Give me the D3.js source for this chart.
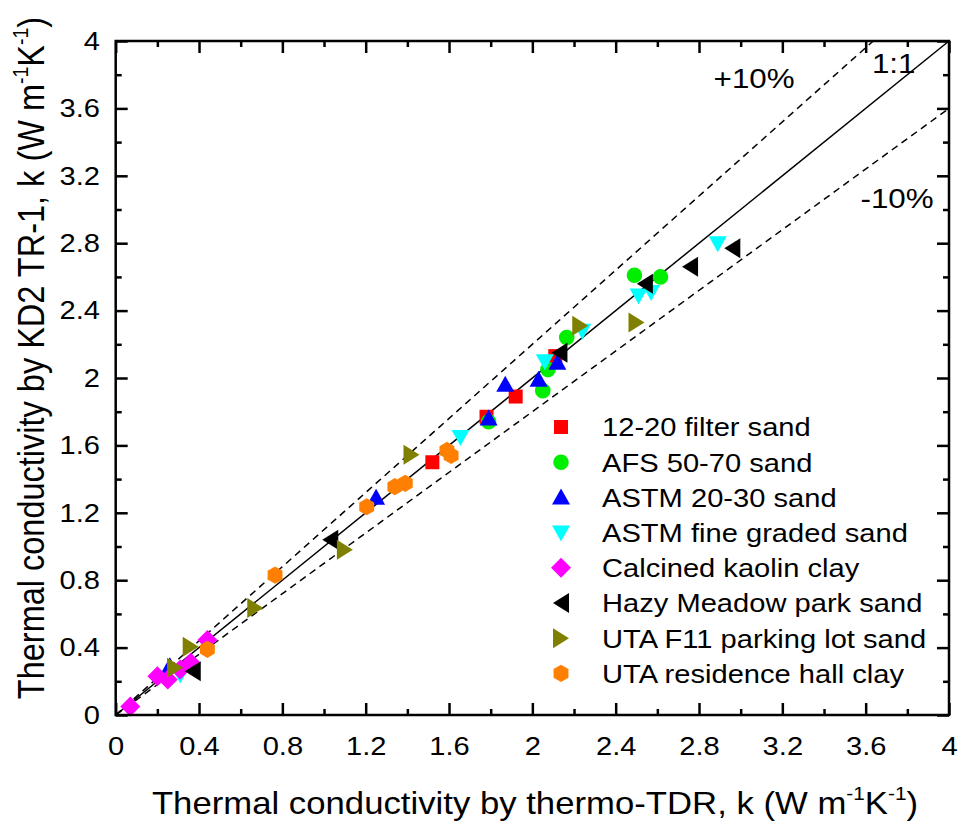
<!DOCTYPE html>
<html>
<head>
<meta charset="utf-8">
<script src="https://cdn.jsdelivr.net/npm/d3@7"></script>
<style>
  body { margin: 0; background: #fff; }
  svg text { font-family: "Liberation Sans", Arial, sans-serif; fill: #000; }
</style>
</head>
<body>
<div id="chart"></div>
<script>
// Data: [thermo-TDR k, KD2 TR-1 k]
var filterSand   = [[1.52,1.50],[1.78,1.77],[1.92,1.89],[2.11,2.13]]
var afsSand      = [[1.79,1.74],[2.05,1.925],[2.075,2.05],[2.165,2.24],[2.49,2.61],[2.615,2.60]]
var astm2030     = [[0.26,0.29],[1.25,1.29],[1.79,1.76],[1.87,1.96],[2.03,1.99],[2.12,2.09]]
var astmFine     = [[0.31,0.24],[1.655,1.65],[2.06,2.10],[2.24,2.28],[2.51,2.49],[2.57,2.51],[2.89,2.80]]
var kaolinClay   = [[0.07,0.05],[0.20,0.23],[0.25,0.21],[0.31,0.27],[0.36,0.31],[0.44,0.445]]
var hazyMeadow   = [[0.37,0.26],[1.03,1.04],[2.13,2.15],[2.54,2.56],[2.757,2.66],[2.96,2.77]]
var utaF11       = [[0.285,0.28],[0.36,0.405],[0.67,0.635],[1.10,0.98],[1.42,1.545],[2.23,2.31],[2.50,2.33]]
var residenceClay= [[0.44,0.39],[0.765,0.83],[1.205,1.236],[1.34,1.355],[1.39,1.375],[1.59,1.57],[1.61,1.54]]

var seriesNames  = ["12-20 filter sand","AFS 50-70 sand","ASTM 20-30 sand","ASTM fine graded sand",
                    "Calcined kaolin clay","Hazy Meadow park sand","UTA F11 parking lot sand","UTA residence hall clay"]
var seriesData   = [filterSand, afsSand, astm2030, astmFine, kaolinClay, hazyMeadow, utaF11, residenceClay]
var seriesColors = ["#ff0000","#00ee00","#0000ff","#00ffff","#ff00ff","#000000","#808000","#ff8000"]
var seriesShapes = ["square","circle","up","down","diamond","left","right","hexagon"]

var majorTicks = [0,0.4,0.8,1.2,1.6,2,2.4,2.8,3.2,3.6,4]
var minorTicks = [0.2,0.6,1.0,1.4,1.8,2.2,2.6,3.0,3.4,3.8]
var refLines = [{slope:1, dash:null}, {slope:1.1, dash:"7,5"}, {slope:0.9, dash:"7,5"}]
var annotations = [{text:"+10%", x:2.87, y:3.72}, {text:"1:1", x:3.63, y:3.81}, {text:"-10%", x:3.575, y:3.01}]

var SX = 1.12  // the original picture is a little stretched horizontally
var W = 963, H = 824
var margin = {left: 115.7, right: 14, top: 41, bottom: 109}

var svg = d3.select('#chart').append('svg')
  .attr('width', W)
  .attr('height', H)

var x = d3.scaleLinear().domain([0,4]).range([margin.left, W - margin.right])
var y = d3.scaleLinear().domain([0,4]).range([H - margin.bottom, margin.top])

function shapePath(shape) {
  switch (shape) {
    case 'square':  return 'M-7,-7H7V7H-7Z'
    case 'circle':  return 'M7.8,0A7.8,7.8 0 1,1 -7.8,0A7.8,7.8 0 1,1 7.8,0Z'
    case 'up':      return 'M0,-9L9,7L-9,7Z'
    case 'down':    return 'M0,9L9,-7L-9,-7Z'
    case 'left':    return 'M-8,0L8,-10L8,10Z'
    case 'right':   return 'M8,0L-8,-10L-8,10Z'
    case 'diamond': return 'M0,-10L10,0L0,10L-10,0Z'
    case 'hexagon':
      var pts = d3.range(6).map(function(i){
        var a = Math.PI/6 + i*Math.PI/3
        return [8.6*Math.cos(a), 8.6*Math.sin(a)]
      })
      return 'M' + pts.join('L') + 'Z'
  }
}

// Reference lines
var line = d3.line()
  .x(function(d) { return x(d[0]) })
  .y(function(d) { return y(d[1]) })

refLines.forEach(function(r){
  var xEnd = Math.min(4, 4 / r.slope)
  svg.append('path')
    .datum([[0,0],[xEnd, xEnd*r.slope]])
    .attr('fill','none')
    .attr('stroke','#000')
    .attr('stroke-width', 1.5)
    .attr('stroke-dasharray', r.dash)
    .attr('d', line)
})

// Points
seriesData.forEach(function(data, i){
  svg.append('g').selectAll('path')
    .data(data)
    .enter().append('path')
      .attr('transform', function(d){ return 'translate(' + x(d[0]) + ',' + y(d[1]) + ')' })
      .attr('d', shapePath(seriesShapes[i]))
      .attr('fill', seriesColors[i])
})

// Axes: major ticks inside, minor ticks inside, on all four sides
function styleAxis(g) {
  g.select('.domain').remove()
  g.selectAll('line').attr('stroke','#000').attr('stroke-width', 2.5)
}

svg.append('g').attr('transform','translate(0,' + y(0) + ')')
  .call(d3.axisBottom(x).tickValues(majorTicks).tickSize(-12).tickPadding(22).tickFormat(d3.format('~g')))
  .call(styleAxis)
svg.append('g').attr('transform','translate(0,' + y(0) + ')')
  .call(d3.axisBottom(x).tickValues(minorTicks).tickSize(-6).tickFormat(''))
  .call(styleAxis)

svg.append('g').attr('transform','translate(' + x(0) + ',0)')
  .call(d3.axisLeft(y).tickValues(majorTicks).tickSize(-12).tickPadding(14).tickFormat(d3.format('~g')))
  .call(styleAxis)
svg.append('g').attr('transform','translate(' + x(0) + ',0)')
  .call(d3.axisLeft(y).tickValues(minorTicks).tickSize(-6).tickFormat(''))
  .call(styleAxis)

svg.append('g').attr('transform','translate(0,' + y(4) + ')')
  .call(d3.axisTop(x).tickValues(majorTicks).tickSize(-12).tickFormat(''))
  .call(styleAxis)
svg.append('g').attr('transform','translate(0,' + y(4) + ')')
  .call(d3.axisTop(x).tickValues(minorTicks).tickSize(-6).tickFormat(''))
  .call(styleAxis)
svg.append('g').attr('transform','translate(' + x(4) + ',0)')
  .call(d3.axisRight(y).tickValues(majorTicks).tickSize(-12).tickFormat(''))
  .call(styleAxis)
svg.append('g').attr('transform','translate(' + x(4) + ',0)')
  .call(d3.axisRight(y).tickValues(minorTicks).tickSize(-6).tickFormat(''))
  .call(styleAxis)

svg.selectAll('.tick text')
  .attr('font-family', null)
  .attr('font-size', 26)
  .attr('fill', '#000')
  .attr('transform', 'scale(' + SX + ',1)')

// Frame
svg.append('rect')
  .attr('x', x(0)).attr('y', y(4))
  .attr('width', x(4) - x(0)).attr('height', y(0) - y(4))
  .attr('fill','none').attr('stroke','#000').attr('stroke-width', 2.5)

// Annotations
svg.selectAll('.annot')
  .data(annotations)
  .enter().append('text')
    .attr('class','annot')
    .attr('transform', function(d){ return 'translate(' + x(d.x) + ',' + y(d.y) + ') scale(' + SX + ',1)' })
    .attr('font-size', 28)
    .text(function(d){ return d.text })

// Axis titles
function unitTitle(t, prefix) {
  t.append('tspan').text(prefix + ', k (W m')
  t.append('tspan').attr('font-size', '0.6em').attr('dy', '-0.75em').text('-1')
  t.append('tspan').attr('dy', '0.45em').text('K')
  t.append('tspan').attr('font-size', '0.6em').attr('dy', '-0.75em').text('-1')
  t.append('tspan').attr('dy', '0.45em').text(')')
}

var xt = svg.append('text')
  .attr('transform', 'translate(' + 535 + ',814) scale(' + SX + ',1)')
  .attr('text-anchor','middle')
  .attr('font-size', 31)
unitTitle(xt, 'Thermal conductivity by thermo-TDR')

var yt = svg.append('text')
  .attr('transform', 'translate(44,358) scale(' + SX + ',1) rotate(-90)')
  .attr('text-anchor','middle')
  .attr('font-size', 32.5)
unitTitle(yt, 'Thermal conductivity by KD2 TR-1')

// Legend
var legend = svg.append('g').attr('transform','translate(561,427)')
var rows = legend.selectAll('g')
  .data(seriesNames)
  .enter().append('g')
    .attr('transform', function(d, i){ return 'translate(0,' + (i*35.2) + ')' })
rows.append('path')
  .attr('d', function(d, i){ return shapePath(seriesShapes[i]) })
  .attr('fill', function(d, i){ return seriesColors[i] })
rows.append('text')
  .attr('transform', 'translate(41,0) scale(' + SX + ',1)')
  .attr('dy', '0.36em')
  .attr('font-size', 26)
  .text(function(d){ return d })
</script>
</body>
</html>
